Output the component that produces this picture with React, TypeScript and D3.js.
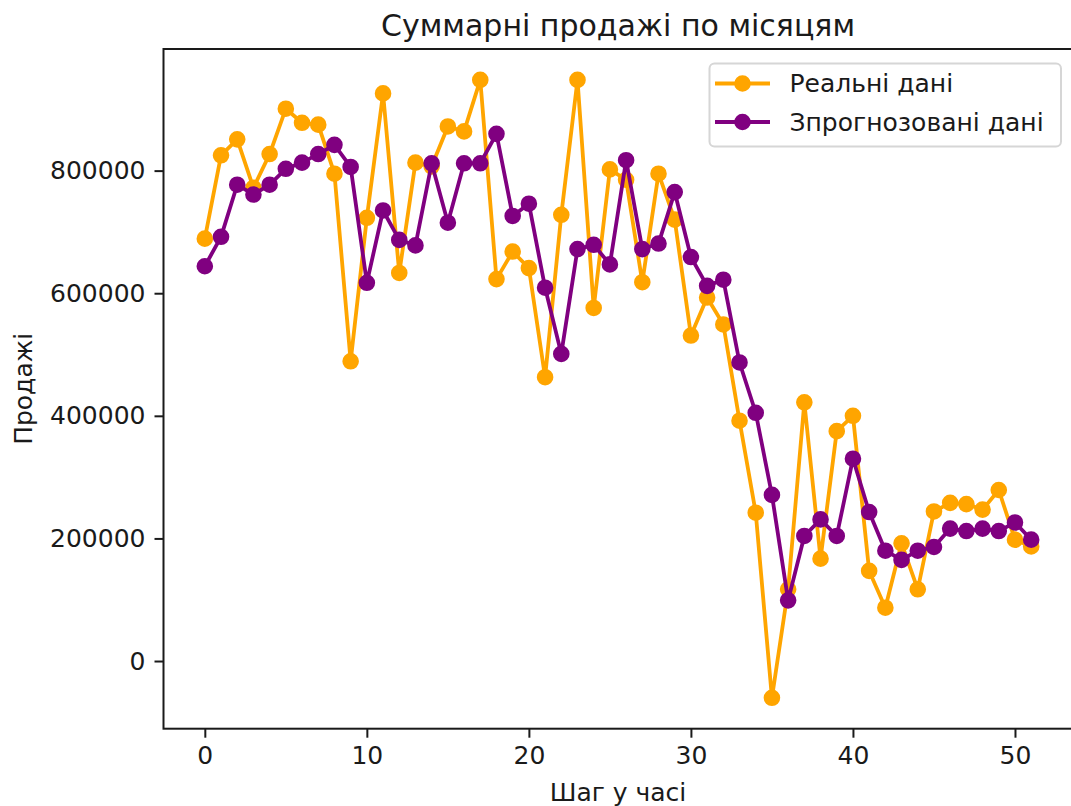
import React, { useEffect, useRef } from 'react';
import * as d3 from 'd3';

// time steps 0..51
const steps = d3.range(0, 52);

// real sales (orange)
const realSales = [
  689000, 825000, 851000, 772000, 827000, 901000, 878000, 875000, 795000, 489000,
  723000, 926000, 633000, 813000, 807000, 872000, 864000, 948000, 623000, 668000,
  641000, 463000, 728000, 948000, 576000, 802000, 785000, 618000, 795000, 720000,
  531000, 593000, 549000, 392000, 242000, -60000, 117000, 422000, 167000, 375000,
  400000, 147000, 87000, 192000, 117000, 244000, 258000, 256000, 247000, 279000,
  198000, 187000,
];

// predicted sales (purple)
const predictedSales = [
  644000, 692000, 777000, 761000, 777000, 803000, 813000, 827000, 842000, 806000,
  617000, 735000, 687000, 678000, 812000, 715000, 812000, 812000, 860000, 726000,
  746000, 609000, 501000, 672000, 679000, 647000, 817000, 672000, 681000, 765000,
  659000, 612000, 622000, 487000, 405000, 271000, 99000, 204000, 231000, 204000,
  330000, 243000, 180000, 165000, 180000, 186000, 216000, 212000, 216000, 212000,
  226000, 198000,
];

const xTicks = [0, 10, 20, 30, 40, 50];
const yTicks = [0, 200000, 400000, 600000, 800000];

const seriesNames = ['Реальні дані', 'Зпрогнозовані дані'];
const seriesColors = ['orange', 'purple'];

const titleText = 'Суммарні продажі по місяцям';
const xLabelText = 'Шаг у часі';
const yLabelText = 'Продажі';

export default function App() {
  const ref = useRef<SVGSVGElement>(null);

  useEffect(() => {
    const W = 1071, H = 806;
    const left = 163.5, right = 1072.5, top = 49, bottom = 728.7;
    const font = 'DejaVu Sans, sans-serif';
    const textColor = '#1a1a1a';

    const svg = d3.select(ref.current);
    svg.selectAll('*').remove();
    svg.attr('width', W).attr('height', H);

    // matplotlib-like 5% margins
    const xMin = d3.min(steps)!, xMax = d3.max(steps)!;
    const xPad = (xMax - xMin) * 0.05;
    const allVals = realSales.concat(predictedSales);
    const yMin = d3.min(allVals)!, yMax = d3.max(allVals)!;
    const yPad = (yMax - yMin) * 0.05;

    const x = d3.scaleLinear().domain([xMin - xPad, xMax + xPad]).range([left, right]);
    const y = d3.scaleLinear().domain([yMin - yPad, yMax + yPad]).range([bottom, top]);

    svg.append('rect').attr('width', W).attr('height', H).attr('fill', 'white');

    // series
    const line = d3.line<number>()
      .x((d, i) => x(steps[i]))
      .y(d => y(d));

    [realSales, predictedSales].forEach((vals, si) => {
      const g = svg.append('g');
      g.append('path')
        .datum(vals)
        .attr('d', line)
        .attr('fill', 'none')
        .attr('stroke', seriesColors[si])
        .attr('stroke-width', 3.8)
        .attr('stroke-linejoin', 'round');
      g.selectAll('circle')
        .data(vals)
        .enter()
        .append('circle')
        .attr('cx', (d, i) => x(steps[i]))
        .attr('cy', d => y(d))
        .attr('r', 7.2)
        .attr('fill', seriesColors[si])
        .attr('stroke', seriesColors[si])
        .attr('stroke-width', 2.2);
    });

    // axes
    const xAxis = svg.append('g')
      .attr('transform', `translate(0,${bottom})`)
      .call(d3.axisBottom(x).tickValues(xTicks).tickFormat(d3.format('d')).tickSize(9).tickPadding(9));
    const yAxis = svg.append('g')
      .attr('transform', `translate(${left},0)`)
      .call(d3.axisLeft(y).tickValues(yTicks).tickFormat(d3.format('d')).tickSize(9).tickPadding(9));

    [xAxis, yAxis].forEach(a => {
      a.select('.domain').remove();
      a.selectAll('line').attr('stroke', textColor).attr('stroke-width', 2);
      a.selectAll('text')
        .attr('fill', textColor)
        .style('font-family', font)
        .style('font-size', '25px');
    });

    // spines
    svg.append('rect')
      .attr('x', left).attr('y', top)
      .attr('width', right - left).attr('height', bottom - top)
      .attr('fill', 'none')
      .attr('stroke', textColor)
      .attr('stroke-width', 2);

    // title and labels
    svg.append('text')
      .attr('x', (left + right) / 2).attr('y', 35.5)
      .attr('text-anchor', 'middle')
      .style('font-family', font).style('font-size', '30px')
      .attr('fill', textColor)
      .text(titleText);

    svg.append('text')
      .attr('x', (left + right) / 2).attr('y', 801)
      .attr('text-anchor', 'middle')
      .style('font-family', font).style('font-size', '25px')
      .attr('fill', textColor)
      .text(xLabelText);

    svg.append('text')
      .attr('transform', `translate(32,${(top + bottom) / 2}) rotate(-90)`)
      .attr('text-anchor', 'middle')
      .style('font-family', font).style('font-size', '25px')
      .attr('fill', textColor)
      .text(yLabelText);

    // legend
    const lg = svg.append('g');
    lg.append('rect')
      .attr('x', 709.5).attr('y', 63.5)
      .attr('width', 351.5).attr('height', 83)
      .attr('rx', 5)
      .attr('fill', 'white').attr('fill-opacity', 0.8)
      .attr('stroke', '#d6d6d6').attr('stroke-width', 2);
    seriesNames.forEach((name, i) => {
      const ry = 83.5 + i * 38.5;
      lg.append('line')
        .attr('x1', 715).attr('x2', 770)
        .attr('y1', ry).attr('y2', ry)
        .attr('stroke', seriesColors[i]).attr('stroke-width', 3.8);
      lg.append('circle')
        .attr('cx', 742.5).attr('cy', ry).attr('r', 7.2)
        .attr('fill', seriesColors[i])
        .attr('stroke', seriesColors[i]).attr('stroke-width', 2.2);
      lg.append('text')
        .attr('x', 789.5).attr('y', ry)
        .attr('dy', '0.35em')
        .style('font-family', font).style('font-size', '25px')
        .attr('fill', textColor)
        .text(name);
    });
  }, []);

  return (
    <svg ref={ref} style={{ position: 'absolute', left: 0, top: 0, display: 'block' }} />
  );
}
